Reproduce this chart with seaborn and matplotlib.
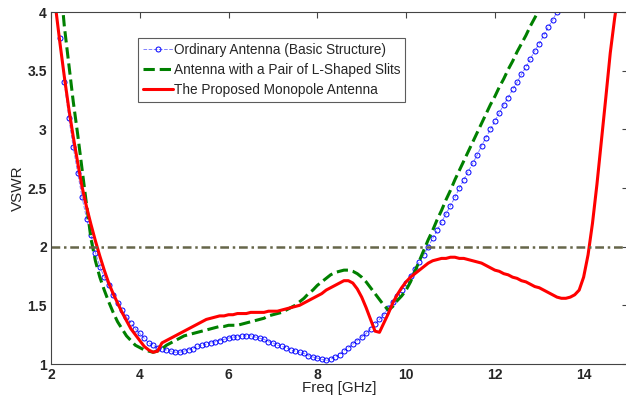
import numpy as np
import pandas as pd
import seaborn as sns
import matplotlib.pyplot as plt

# Ordinary antenna (basic structure), 2.2 .. 13.4 GHz, 0.1 GHz step
blue_f = np.round(np.arange(2.2, 13.45, 0.1), 1)
blue_v = [3.78, 3.40, 3.10, 2.85, 2.63, 2.42, 2.24, 2.10, 1.95, 1.83,
          1.74, 1.67, 1.59, 1.52, 1.46, 1.40, 1.35, 1.30, 1.26, 1.22,
          1.18, 1.16, 1.14, 1.13, 1.12, 1.11, 1.10, 1.10, 1.11, 1.12,
          1.13, 1.15, 1.16, 1.17, 1.18, 1.19, 1.20, 1.21, 1.22, 1.23,
          1.23, 1.24, 1.24, 1.24, 1.23, 1.22, 1.21, 1.19, 1.18, 1.16,
          1.15, 1.14, 1.12, 1.11, 1.10, 1.09, 1.07, 1.06, 1.05, 1.04,
          1.03, 1.04, 1.06, 1.08, 1.11, 1.14, 1.17, 1.20, 1.23, 1.26,
          1.30, 1.34, 1.38, 1.42, 1.48, 1.53, 1.58, 1.63, 1.69, 1.75,
          1.81, 1.87, 1.93, 2.00, 2.07, 2.14, 2.21, 2.28, 2.35, 2.42,
          2.50, 2.57, 2.64, 2.71, 2.78, 2.86, 2.93, 3.00, 3.07, 3.14,
          3.21, 3.27, 3.34, 3.40, 3.47, 3.53, 3.60, 3.67, 3.73, 3.80,
          3.87, 3.93, 4.00]

# Antenna with a pair of L-shaped slits, 2.2 .. 13.0 GHz
green_f = np.round(np.arange(2.2, 13.05, 0.1), 1)
green_v = [4.30, 3.88, 3.56, 3.24, 2.96, 2.66, 2.36, 2.07, 1.88, 1.74,
           1.63, 1.53, 1.44, 1.36, 1.30, 1.24, 1.20, 1.16, 1.14, 1.12,
           1.11, 1.10, 1.11, 1.13, 1.16, 1.18, 1.20, 1.22, 1.24, 1.25,
           1.26, 1.27, 1.28, 1.29, 1.30, 1.31, 1.32, 1.32, 1.33, 1.33,
           1.33, 1.34, 1.35, 1.36, 1.37, 1.38, 1.39, 1.41, 1.42, 1.43,
           1.44, 1.46, 1.48, 1.50, 1.53, 1.56, 1.60, 1.63, 1.67, 1.70,
           1.73, 1.76, 1.78, 1.79, 1.80, 1.80, 1.79, 1.77, 1.74, 1.70,
           1.65, 1.60, 1.55, 1.50, 1.46, 1.49, 1.54, 1.58, 1.63, 1.70,
           1.79, 1.88, 1.97, 2.06, 2.14, 2.23, 2.31, 2.40, 2.48, 2.57,
           2.65, 2.73, 2.81, 2.89, 2.97, 3.05, 3.13, 3.21, 3.28, 3.36,
           3.43, 3.51, 3.58, 3.66, 3.73, 3.80, 3.88, 3.95, 4.02]

# The proposed monopole antenna, 2.1 .. 14.8 GHz
red_f = np.round(np.arange(2.1, 14.85, 0.1), 1)
red_v = [4.05, 3.74, 3.45, 3.18, 2.94, 2.72, 2.51, 2.34, 2.19, 2.05,
         1.92, 1.80, 1.69, 1.60, 1.52, 1.44, 1.37, 1.30, 1.25, 1.20,
         1.15, 1.12, 1.10, 1.11, 1.18, 1.20, 1.22, 1.24, 1.26, 1.28,
         1.30, 1.32, 1.34, 1.36, 1.38, 1.39, 1.40, 1.41, 1.41, 1.42,
         1.42, 1.43, 1.43, 1.43, 1.44, 1.44, 1.44, 1.44, 1.45, 1.45,
         1.45, 1.46, 1.47, 1.48, 1.49, 1.50, 1.52, 1.54, 1.56, 1.58,
         1.60, 1.63, 1.65, 1.67, 1.69, 1.71, 1.71, 1.69, 1.64, 1.57,
         1.48, 1.38, 1.28, 1.27, 1.35, 1.43, 1.52, 1.59, 1.65, 1.70,
         1.74, 1.77, 1.80, 1.83, 1.86, 1.88, 1.89, 1.90, 1.90, 1.91,
         1.91, 1.90, 1.90, 1.89, 1.88, 1.87, 1.86, 1.84, 1.82, 1.80,
         1.79, 1.77, 1.76, 1.74, 1.73, 1.71, 1.70, 1.68, 1.66, 1.65,
         1.63, 1.61, 1.59, 1.57, 1.56, 1.56, 1.57, 1.59, 1.63, 1.74,
         1.93, 2.20, 2.53, 2.90, 3.27, 3.65, 3.95, 4.20]

vswr_limit = 2.0
x_ticks = [2, 4, 6, 8, 10, 12, 14]
y_ticks = [1, 1.5, 2, 2.5, 3, 3.5, 4]
y_tick_labels = ["1", "1.5", "2", "2.5", "3", "3.5", "4"]

sns.set_style("white")
plt.rcParams["font.family"] = ["Liberation Sans", "DejaVu Sans"]

fig = plt.figure(figsize=(6.26, 4.04), dpi=100)
ax = fig.add_axes([51 / 626, 40 / 404, 577 / 626, 352 / 404])

sns.lineplot(x=blue_f, y=blue_v, ax=ax, color="#8080ff", linestyle="--",
             linewidth=0.7, marker="o", markersize=3.6, markerfacecolor="none",
             markeredgecolor="#0000ff", markeredgewidth=0.7,
             label="Ordinary Antenna (Basic Structure)")
sns.lineplot(x=green_f, y=green_v, ax=ax, color="#008000", linestyle="--",
             linewidth=2.2, dashes=(2.2, 1.3),
             label="Antenna with a Pair of L-Shaped Slits")
sns.lineplot(x=red_f, y=red_v, ax=ax, color="#ff0000", linewidth=2.2,
             label="The Proposed Monopole Antenna")
# VSWR = 2 reference line
ax.axhline(vswr_limit, color="#66664a", linewidth=1.8,
           dashes=(3.5, 1.5, 1, 1.5))

ax.set_xlim(2, 15)
ax.set_ylim(1, 4)
ax.set_xticks(x_ticks)
ax.set_yticks(y_ticks)
ax.set_xticklabels([str(t) for t in x_ticks], fontweight="bold", fontsize=10)
ax.set_yticklabels(y_tick_labels, fontweight="bold", fontsize=10)
ax.tick_params(direction="in", length=4, width=0.8, color="#444444",
               top=True, right=True, pad=3)
for s in ax.spines.values():
    s.set_color("#444444")
    s.set_linewidth(0.8)

ax.set_xlabel("Freq [GHz]", fontsize=11, labelpad=-1)
ax.set_ylabel("VSWR", fontsize=11, labelpad=2)

leg = ax.legend(loc="upper left", bbox_to_anchor=(0.151, 0.926),
                borderaxespad=0, fontsize=9.8, frameon=True, fancybox=False,
                handlelength=2.2, handletextpad=0.1, labelspacing=0.45,
                borderpad=0.35)
leg.get_frame().set_edgecolor("#333333")
leg.get_frame().set_linewidth(0.8)

fig.savefig("out.png", dpi=100)
